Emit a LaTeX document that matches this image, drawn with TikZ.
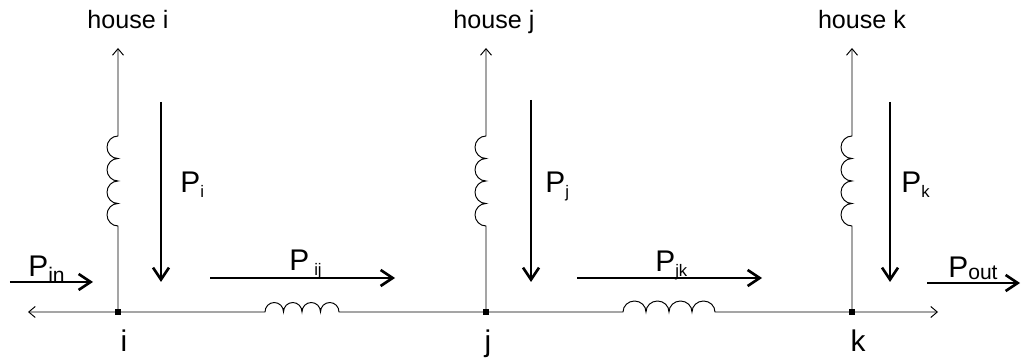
\documentclass[tikz,border=0pt]{standalone}
\usepackage{fontspec}
\setmainfont{Liberation Sans}
\usetikzlibrary{arrows.meta}
\tikzstyle{junction}=[rectangle, fill, inner sep=0pt, minimum size=1.2mm]
\tikzstyle{wire}=[draw=black, line width=0.55pt, >={Straight Barb[length=1.3mm, width=2.2mm]}]
\tikzstyle{flow}=[draw=black, line width=1.5pt, ->, >={Straight Barb[length=2.4mm, width=3.2mm]}]
\tikzstyle{house}=[anchor=base, inner sep=0pt, font=\fontsize{14.3}{16}\selectfont]
\tikzstyle{busname}=[anchor=base, inner sep=0pt, font=\fontsize{17}{19}\selectfont]
\tikzstyle{plabel}=[anchor=base west, inner sep=0pt, font=\fontsize{17}{19}\selectfont]
\newcommand{\psmall}[1]{P\raisebox{-2.3pt}{\fontsize{9.5}{10}\selectfont #1}}
\newcommand{\plarge}[2]{P\raisebox{-#2}{\fontsize{12}{13}\selectfont #1}}

\begin{document}
\begin{tikzpicture}
	\useasboundingbox (0,-0.92) rectangle (20.46,6.24);
	\begin{scope}
		% bus nodes
		\coordinate (i) at (2.36, 0);
		\coordinate (j) at (9.72, 0);
		\coordinate (k) at (17.04, 0);
		\coordinate (busl) at (0.56, 0);
		\coordinate (busr) at (18.76, 0);
		\coordinate (lij) at (5.30, 0);
		\coordinate (ljk) at (12.46, 0);
		% house feeders
		\coordinate (ci) at (2.36, 1.72);
		\coordinate (cj) at (9.72, 1.72);
		\coordinate (ck) at (17.04, 1.72);
		\coordinate (hi) at (2.36, 5.28);
		\coordinate (hj) at (9.72, 5.28);
		\coordinate (hk) at (17.04, 5.28);
		\node (housei) at (2.56, 5.66)[house] {house i};
		\node (housej) at (9.88, 5.66)[house] {house j};
		\node (housek) at (17.24, 5.66)[house] {house k};
		\node (namei) at (2.48, -0.80)[busname] {i};
		\node (namej) at (9.76, -0.80)[busname] {j};
		\node (namek) at (17.16, -0.80)[busname] {k};
		% power flows
		\coordinate (pin1) at (0.20, 0.60);
		\coordinate (pin2) at (1.86, 0.60);
		\coordinate (pi1) at (3.22, 4.20);
		\coordinate (pi2) at (3.22, 0.60);
		\coordinate (pj1) at (10.62, 4.24);
		\coordinate (pj2) at (10.62, 0.60);
		\coordinate (pk1) at (17.80, 4.20);
		\coordinate (pk2) at (17.80, 0.60);
		\coordinate (pij1) at (4.20, 0.68);
		\coordinate (pij2) at (7.90, 0.68);
		\coordinate (pjk1) at (11.54, 0.68);
		\coordinate (pjk2) at (15.24, 0.68);
		\coordinate (pout1) at (18.54, 0.58);
		\coordinate (pout2) at (20.40, 0.58);
		\node (Pin) at (0.56, 0.70)[plabel] {\plarge{in}{3.4pt}};
		\node (Pi) at (3.60, 2.38)[plabel] {\psmall{i}};
		\node (Pij) at (5.78, 0.82)[plabel] {P\,\raisebox{-2.3pt}{\fontsize{9.5}{10}\selectfont ij}};
		\node (Pj) at (10.90, 2.38)[plabel] {\psmall{j}};
		\node (Pjk) at (13.10, 0.80)[plabel] {\psmall{jk}};
		\node (Pk) at (18.02, 2.38)[plabel] {\psmall{k}};
		\node (Pout) at (18.96, 0.68)[plabel] {\plarge{out}{0.8pt}};
	\end{scope}
	\begin{scope}
		\draw [wire, <->] (busl) -- (lij)
			arc[start angle=180, end angle=0, x radius=0.185, y radius=0.19]
			arc[start angle=180, end angle=0, x radius=0.185, y radius=0.19]
			arc[start angle=180, end angle=0, x radius=0.185, y radius=0.19]
			arc[start angle=180, end angle=0, x radius=0.185, y radius=0.19]
			-- (ljk)
			arc[start angle=180, end angle=0, x radius=0.23, y radius=0.22]
			arc[start angle=180, end angle=0, x radius=0.23, y radius=0.22]
			arc[start angle=180, end angle=0, x radius=0.23, y radius=0.22]
			arc[start angle=180, end angle=0, x radius=0.23, y radius=0.22]
			-- (busr);
		\foreach \n in {i, j, k} {
			\draw [wire, ->] (\n) -- (c\n)
				arc[start angle=-90, end angle=-270, x radius=0.22, y radius=0.225]
				arc[start angle=-90, end angle=-270, x radius=0.22, y radius=0.225]
				arc[start angle=-90, end angle=-270, x radius=0.22, y radius=0.225]
				arc[start angle=-90, end angle=-270, x radius=0.22, y radius=0.225]
				-- (h\n);
			\node at (\n)[junction] {};
		}
		\draw [flow] (pin1) -- (pin2);
		\draw [flow] (pi1) -- (pi2);
		\draw [flow] (pj1) -- (pj2);
		\draw [flow] (pk1) -- (pk2);
		\draw [flow] (pij1) -- (pij2);
		\draw [flow] (pjk1) -- (pjk2);
		\draw [flow] (pout1) -- (pout2);
	\end{scope}
\end{tikzpicture}
\end{document}
